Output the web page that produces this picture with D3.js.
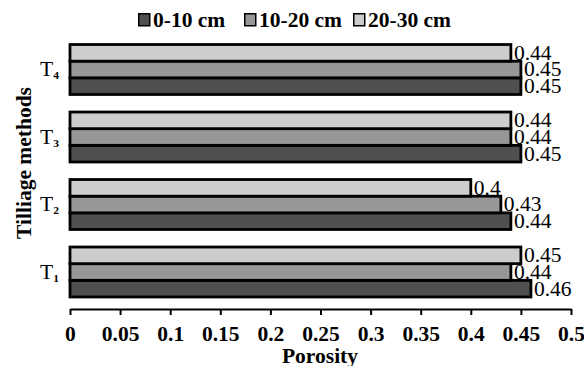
<!DOCTYPE html>
<html>
<head>
<meta charset="utf-8">
<script src="https://cdn.jsdelivr.net/npm/d3@7"></script>
<style>
  body { margin: 0; background: #fff; }
  svg { display: block; }
  text { font-family: "Liberation Serif", "Times New Roman", serif; fill: #000; }
</style>
</head>
<body>
<svg id="chart" width="584" height="366"></svg>
<script>
// ---- data ----
const categories = ["T1", "T2", "T3", "T4"];
const categoryLabels = [["T", "1"], ["T", "2"], ["T", "3"], ["T", "4"]];
const seriesNames = ["0-10 cm", "10-20 cm", "20-30 cm"];
const depth0_10 = [0.46, 0.44, 0.45, 0.45];
const depth10_20 = [0.44, 0.43, 0.44, 0.45];
const depth20_30 = [0.45, 0.40, 0.44, 0.44];
const xTicks = [0, 0.05, 0.1, 0.15, 0.2, 0.25, 0.3, 0.35, 0.4, 0.45, 0.5];
const xTickLabels = ["0", "0.05", "0.1", "0.15", "0.2", "0.25", "0.3", "0.35", "0.4", "0.45", "0.5"];
const valueLabels0_10 = ["0.46", "0.44", "0.45", "0.45"];
const valueLabels10_20 = ["0.44", "0.43", "0.44", "0.45"];
const valueLabels20_30 = ["0.45", "0.4", "0.44", "0.44"];

const seriesValues = [depth0_10, depth10_20, depth20_30];
const seriesLabels = [valueLabels0_10, valueLabels10_20, valueLabels20_30];
const colors = ["#4f4f4f", "#979797", "#cdcdcd"];
const SX = 1.05; // horizontal text stretch
const FS = "20.5px";

const svg = d3.select("#chart");

const x = d3.scaleLinear().domain([0, 0.5]).range([70, 571]);
const y = d3.scaleBand().domain(categories.slice().reverse()).range([35.75, 305.75])
  .paddingInner(0.26).paddingOuter(0.13);
const yInner = d3.scaleBand().domain([2, 1, 0]).range([0, y.bandwidth()]);

// bars
categories.forEach((cat, ci) => {
  const g = svg.append("g").attr("transform", `translate(0,${y(cat)})`);
  [0, 1, 2].forEach(si => {
    const v = seriesValues[si][ci];
    g.append("rect")
      .attr("x", x(0))
      .attr("y", yInner(si))
      .attr("width", x(v) - x(0))
      .attr("height", yInner.bandwidth())
      .attr("fill", colors[si])
      .attr("stroke", "#000")
      .attr("stroke-width", 2.8);
  });
  [0, 1, 2].forEach(si => {
    const v = seriesValues[si][ci];
    g.append("g")
      .attr("transform", `translate(${x(v) + 3},${yInner(si) + yInner.bandwidth() / 2})`)
      .append("text")
      .attr("transform", `scale(${SX},1)`)
      .attr("dy", "0.34em")
      .style("font-size", FS)
      .text(seriesLabels[si][ci]);
  });
});

// category labels
categories.forEach((cat, ci) => {
  const t = svg.append("g")
    .attr("transform", `translate(40,${y(cat) + y.bandwidth() / 2})`)
    .append("text")
    .attr("transform", `scale(${SX},1)`)
    .attr("dy", "0.34em")
    .style("font-size", FS);
  t.append("tspan").text(categoryLabels[ci][0]);
  t.append("tspan").attr("dy", "3").style("font-size", "11px").style("font-weight", "bold").text(categoryLabels[ci][1]);
});

// x axis
const xAxis = d3.axisBottom(x).tickValues(xTicks)
  .tickFormat((d, i) => xTickLabels[i]).tickSize(6).tickSizeOuter(0);
const ax = svg.append("g").attr("transform", "translate(0,309)").call(xAxis);
ax.select(".domain").attr("stroke", "#000").attr("stroke-width", 2);
ax.selectAll(".tick line").attr("stroke", "#000").attr("stroke-width", 2);
ax.selectAll(".tick text")
  .attr("y", 17)
  .attr("dy", "0.71em")
  .attr("transform", `scale(${SX},1)`)
  .style("font-family", "'Liberation Serif', serif")
  .style("font-size", FS)
  .style("font-weight", "bold")
  .attr("fill", "#000");

// axis titles
svg.append("g").attr("transform", "translate(320,363)")
  .append("text").attr("transform", `scale(${SX},1)`)
  .attr("text-anchor", "middle")
  .style("font-size", FS).style("font-weight", "bold")
  .text("Porosity");

svg.append("g").attr("transform", "translate(31,163) rotate(-90)")
  .append("text").attr("transform", `scale(${SX},1)`)
  .attr("text-anchor", "middle")
  .style("font-size", FS).style("font-weight", "bold")
  .text("Tilliage methods");

// legend
const legendX = [138, 244, 353];
seriesNames.forEach((name, si) => {
  const lg = svg.append("g").attr("transform", `translate(${legendX[si]},13)`);
  lg.append("rect").attr("x", 0.75).attr("y", 0.75).attr("width", 11).attr("height", 12)
    .attr("fill", colors[si]).attr("stroke", "#000").attr("stroke-width", 1.5);
  lg.append("g").attr("transform", "translate(15,13.5)")
    .append("text").attr("transform", `scale(${SX},1)`)
    .style("font-size", FS).style("font-weight", "bold")
    .text(name);
});
</script>
</body>
</html>
